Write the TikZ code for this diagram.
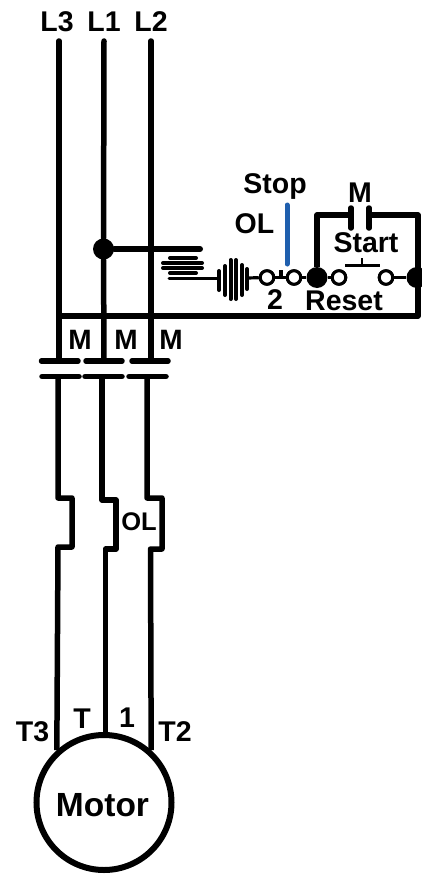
\documentclass[tikz,border=0pt]{standalone}
\usepackage{fontspec}
\setmainfont{Liberation Sans}[BoldFont={Liberation Sans Bold}]
\tikzset{
  wire/.style={line width=5.5pt,black,line join=round},
  bar/.style={line width=5.5pt,black,line cap=round},
  thinbar/.style={line width=4pt,black,line cap=round},
  thinwire/.style={line width=3.2pt,black},
  lab/.style={inner sep=0pt,text depth=0pt,font=\bfseries\fontsize{#1}{#1}\selectfont},
  lab/.default=28.5,
  open/.style={circle,draw=black,line width=3pt,fill=white,minimum size=13.5pt,inner sep=0pt},
  junction/.style={circle,fill=black,minimum size=21pt,inner sep=0pt},
}
\begin{document}
\begin{tikzpicture}[x=1pt,y=-1pt]
\useasboundingbox[fill=white] (0,0) rectangle (422,875);
\clip (0,0) rectangle (422,875);
% labels
\node[lab] (tL3) at (57,22) {L3};
\node[lab] (tL1) at (104,22) {L1};
\node[lab] (tL2) at (151,22) {L2};
\node[lab] (tStop) at (275,184) {Stop};
\node[lab] (tOL) at (254.5,224) {OL};
\node[lab] (tM) at (360,193) {M};
\node[lab] (tStart) at (366,243) {Start};
\node[lab] (t2) at (275,300) {2};
\node[lab] (tReset) at (344,301) {Reset};
\node[lab=28] (tMa) at (80,340) {M};
\node[lab=28] (tMb) at (126,340) {M};
\node[lab=28] (tMc) at (171,340) {M};
\node[lab=25.5] (tOLb) at (139,522) {OL};
\node[lab] (tT3) at (32.5,732) {T3};
\node[lab] (tT) at (82,719) {T};
\node[lab] (t1) at (127,718) {1};
\node[lab] (tT2) at (175,732) {T2};
% line tops
\coordinate (a0) at (59,41);
\coordinate (b0) at (104,41);
\coordinate (c0) at (151,41);
% contactor plates
\coordinate (a1) at (59,361);
\coordinate (b1) at (104,361);
\coordinate (c1) at (151,361);
\coordinate (a2) at (58,376);
\coordinate (b2) at (102,376);
\coordinate (c2) at (147,376);
% motor
\node[circle,draw=black,line width=6pt,minimum size=135pt,inner sep=0pt] (motor) at (104,802.5) {};
\node[lab=33.5] (tMotor) at (102.5,804.5) {Motor};
% control nodes
\node[junction] (jL1) at (103.5,249) {};
\node[open] (o1) at (267,277.5) {};
\node[open] (o2) at (294,277.5) {};
\node[junction] (j1) at (317,277.5) {};
\node[open] (o3) at (339,277.5) {};
\node[open] (o4) at (386,277.5) {};
\node[junction] (j2) at (417,277.5) {};
\coordinate (rtop) at (418,215);
\coordinate (rbot) at (418,316);
\coordinate (lbus) at (59,316);
\coordinate (ltop) at (317,215);
\coordinate (mL) at (351,215);
\coordinate (mR) at (369,215);
% main lines
\draw[wire,line cap=round] (a0) -- (a1);
\draw[wire,line cap=round] (b0) -- (jL1) -- (b1);
\draw[wire,line cap=round] (c0) -- (c1);
\draw[bar] (41.5,361) -- (78,361);
\draw[bar] (86,361) -- (122,361);
\draw[bar] (132,361) -- (168,361);
\draw[bar] (42,376.5) -- (79,376.5);
\draw[bar] (85,376.5) -- (122,376.5);
\draw[bar] (129,376.5) -- (166,376.5);
% lower lines with overload jogs
\draw[wire] (a2) -- (58,498) -- (72,498) -- (72,547) -- (58,547) -- (motor.132);
\draw[wire] (b2) -- (102,500) -- (116,500) -- (116,549) -- (105.5,549) -- (105.5,736);
\draw[wire] (c2) -- (147,498) -- (162,498) -- (162,549) -- (150.5,549) -- (motor.48);
% control bus
\draw[wire] (lbus) -- (rbot) -- (rtop) -- (mR);
\draw[wire] (j1) -- (ltop) -- (mL);
\draw[line width=5.5pt,line cap=round] (351,208) -- (351,228);
\draw[line width=5.5pt,line cap=round] (369,208) -- (369,228);
% coil
\draw[line width=6pt,line cap=round] (jL1) -- (200,249);
\draw[thinbar] (170,258) -- (196,258);
\draw[thinbar] (163,263) -- (202,263);
\draw[thinbar] (163,268) -- (202,268);
\draw[thinbar] (170,273) -- (196,273);
\draw[line width=3pt,line cap=round] (169,278) -- (219,278);
\draw[thinbar] (219,271) -- (219,290);
\draw[thinbar] (225,266) -- (225,295);
\draw[thinbar] (230.5,260) -- (230.5,299);
\draw[thinbar] (236,260) -- (236,299);
\draw[thinbar] (242,265) -- (242,295);
\draw[thinbar] (247,269) -- (247,289);
\draw[thinwire] (247,278) -- (o1);
% contacts
\draw[thinwire] (o1) -- (o2);
\draw[thinwire] (281,277.5) -- (281,270);
\draw[line width=5pt,draw={rgb,255:red,31;green,95;blue,174},line cap=round] (287,205) -- (287,264);
\draw[thinwire] (o2) -- (j1);
\draw[thinwire] (j1) -- (o3);
\draw[thinwire] (o4) -- (j2);
\draw[line width=3pt] (345,265) -- (380,265);
\draw[line width=2pt] (362,265) -- (362,258);
\node[open] at (o1) {};
\node[open] at (o2) {};
\node[open] at (o3) {};
\node[open] at (o4) {};
\end{tikzpicture}
\end{document}
